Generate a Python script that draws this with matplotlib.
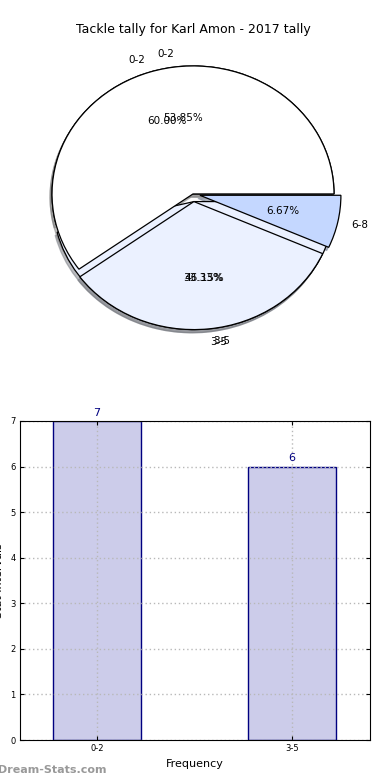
import matplotlib
matplotlib.use("Agg")
import matplotlib.pyplot as plt

title = "Tackle tally for Karl Amon - 2017 tally"

# first pie (all intervals)
pie_labels = ["0-2", "3-5", "6-8"]
pie_values = [9, 5, 1]
pie_colors = ["#ffffff", "#ebf1ff", "#c4d7ff"]
pie_explode = [0, 0.06, 0.05]

# second pie / bar chart (frequency per interval)
bar_labels = ["0-2", "3-5"]
bar_values = [7, 6]
bar_explode = [0, 0.06]

fig = plt.figure(figsize=(3.9, 7.8), dpi=100)

# ---- pie ----
ax1 = fig.add_axes([0.0249, 0.538, 0.94, 0.4267])
wp = {"edgecolor": "black", "linewidth": 0.9}
tp = {"fontsize": 7.5}
shad = {"ox": -0.01, "oy": -0.018, "shade": 0.5}
ax1.pie(bar_values, labels=bar_labels, explode=bar_explode, colors=pie_colors[:2],
        autopct="%1.2f%%", shadow=shad, wedgeprops=wp, textprops=tp)
ax1.pie(pie_values, labels=pie_labels, explode=pie_explode, colors=pie_colors,
        autopct="%1.2f%%", shadow=shad, wedgeprops=wp, textprops=tp)
ax1.set_aspect("auto")
ax1.set_xlim(-1.3, 1.3)
ax1.set_ylim(-1.3, 1.3)
ax1.axis("off")

fig.text(193 / 390, 1 - 30 / 780, title, ha="center", va="center", fontsize=9)

# ---- bars ----
ax2 = fig.add_axes([20 / 390, 40 / 780, 350 / 390, 319 / 780])
x = range(len(bar_values))
ax2.bar(x, bar_values, width=0.45, color="#ccccea", edgecolor="#000080", linewidth=1, zorder=2)
for i, v in enumerate(bar_values):
    ax2.annotate(str(v), (i, v), xytext=(0, 2.5), textcoords="offset points",
                 ha="center", va="bottom", fontsize=8, color="#000080")
ax2.set_xlim(-0.395, 1.4)
ax2.set_ylim(0, 7)
ax2.set_xticks(list(x))
ax2.set_xticklabels(bar_labels)
ax2.set_yticks(range(0, 8))
ax2.tick_params(labelsize=6, direction="in", top=True, right=True, length=3, pad=3)
ax2.set_axisbelow(False)
ax2.grid(True, linestyle=(0, (1, 2)), color="#b8b8b8", linewidth=1, zorder=3)
for sp in ax2.spines.values():
    sp.set_zorder(4)
ax2.set_xlabel("Frequency", fontsize=8, labelpad=4)
ax2.set_ylabel("Stat Intervals", fontsize=8)
ax2.yaxis.set_label_coords(-0.047, 0.5)

fig.text(-0.005, 1 - 770 / 780, "Dream-Stats.com", ha="left", va="center",
         fontsize=8, color="#999999", fontweight="bold")

fig.savefig("out.png", dpi=100)
